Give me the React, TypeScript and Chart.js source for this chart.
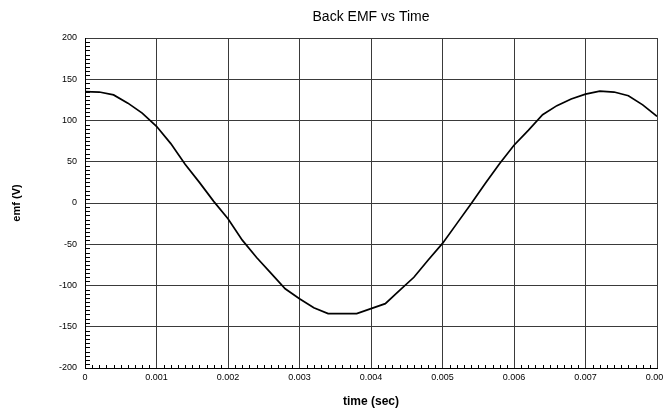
import React, { useEffect, useRef } from 'react';
import { Chart, registerables } from 'chart.js';

Chart.register(...registerables);

const chartTitle = 'Back EMF vs Time';
const xAxisTitle = 'time (sec)';
const yAxisTitle = 'emf (V)';

const timeSec = [
  0, 0.0002, 0.0004, 0.0006, 0.0008, 0.001, 0.0012, 0.0014, 0.0016, 0.0018,
  0.002, 0.0022, 0.0024, 0.0026, 0.0028, 0.003, 0.0032, 0.0034, 0.0036, 0.0038,
  0.004, 0.0042, 0.0044, 0.0046, 0.0048, 0.005, 0.0052, 0.0054, 0.0056, 0.0058,
  0.006, 0.0062, 0.0064, 0.0066, 0.0068, 0.007, 0.0072, 0.0074, 0.0076, 0.0078, 0.008,
];
const emfVolts = [
  135, 134.5, 131, 121, 109, 93, 72, 47, 25, 2,
  -19, -45, -66, -85, -104, -116, -127, -134, -134, -134,
  -128, -122, -106, -90, -69, -49, -25, -1, 24, 48,
  70, 88, 107, 118, 126, 132, 135.5, 134.5, 130, 119, 105,
];

const xMin = 0;
const xMax = 0.008;
const xMajorStep = 0.001;
const xMinorStep = 0.0001;
const yMin = -200;
const yMax = 200;
const yMajorStep = 50;
const yMinorStep = 5;

const FONT = '"Liberation Sans", Arial, sans-serif';

const decorPlugin = {
  id: 'decor',
  afterDraw(chart: any) {
    const { ctx, chartArea: a, scales } = chart;
    const x = scales.x;
    const y = scales.y;
    ctx.save();
    ctx.strokeStyle = '#000';
    ctx.lineWidth = 1;
    ctx.beginPath();
    const nY = Math.round((yMax - yMin) / yMinorStep);
    for (let i = 0; i <= nY; i++) {
      if (i % Math.round(yMajorStep / yMinorStep) === 0) continue;
      const py = Math.round(y.getPixelForValue(yMin + i * yMinorStep)) + 0.5;
      ctx.moveTo(a.left, py);
      ctx.lineTo(a.left + 5, py);
    }
    const nX = Math.round((xMax - xMin) / xMinorStep);
    for (let i = 0; i <= nX; i++) {
      if (i % Math.round(xMajorStep / xMinorStep) === 0) continue;
      const px = Math.round(x.getPixelForValue(xMin + i * xMinorStep)) + 0.5;
      ctx.moveTo(px, a.bottom);
      ctx.lineTo(px, a.bottom - 3);
    }
    ctx.stroke();

    ctx.fillStyle = '#000';
    const cx = (a.left + a.right) / 2;
    ctx.font = `14px ${FONT}`;
    ctx.textAlign = 'center';
    ctx.textBaseline = 'alphabetic';
    ctx.fillText(chartTitle, cx, 21);

    ctx.font = `bold 12px ${FONT}`;
    ctx.fillText(xAxisTitle, cx, 405);

    const cy = (a.top + a.bottom) / 2;
    ctx.translate(20, cy);
    ctx.rotate(-Math.PI / 2);
    ctx.font = `bold 11px ${FONT}`;
    ctx.fillText(yAxisTitle, 0, 0);
    ctx.restore();
  },
};

export default function App() {
  const ref = useRef<HTMLCanvasElement | null>(null);

  useEffect(() => {
    if (!ref.current) return;
    const chart = new Chart(ref.current, {
      type: 'scatter',
      data: {
        datasets: [
          {
            data: timeSec.map((t, i) => ({ x: t, y: emfVolts[i] })),
            showLine: true,
            borderColor: '#000',
            borderWidth: 1.7,
            pointRadius: 0,
            tension: 0,
            fill: false,
          },
        ],
      },
      options: {
        animation: false,
        responsive: false,
        layout: { padding: { top: 38, right: 6, left: 0, bottom: 0 } },
        plugins: {
          legend: { display: false },
          title: { display: false },
          tooltip: { enabled: false },
        },
        scales: {
          x: {
            type: 'linear',
            min: xMin,
            max: xMax,
            afterFit: (s: any) => {
              s.height = 40;
              s.paddingLeft = 0;
              s.paddingRight = 0;
            },
            ticks: {
              stepSize: xMajorStep,
              padding: 4,
              color: '#000',
              font: { family: FONT, size: 9 },
              maxRotation: 0,
              callback: (v: any) => (Number(v) === 0 ? '0' : Number(v).toFixed(3)),
            },
            grid: { color: '#3a3a3a', lineWidth: 1, drawTicks: false },
            border: { display: true, color: '#000', width: 1 },
          },
          y: {
            type: 'linear',
            min: yMin,
            max: yMax,
            afterFit: (s: any) => {
              s.width = 85;
            },
            ticks: {
              stepSize: yMajorStep,
              padding: 8,
              color: '#000',
              font: { family: FONT, size: 9 },
            },
            grid: { color: '#3a3a3a', lineWidth: 1, drawTicks: false },
            border: { display: true, color: '#000', width: 1 },
          },
        },
      },
      plugins: [decorPlugin],
    });
    return () => chart.destroy();
  }, []);

  return (
    <div style={{ position: 'absolute', left: 0, top: 0, width: 663, height: 408, background: '#fff' }}>
      <canvas ref={ref} width={663} height={408} style={{ width: 663, height: 408, display: 'block' }} />
    </div>
  );
}
